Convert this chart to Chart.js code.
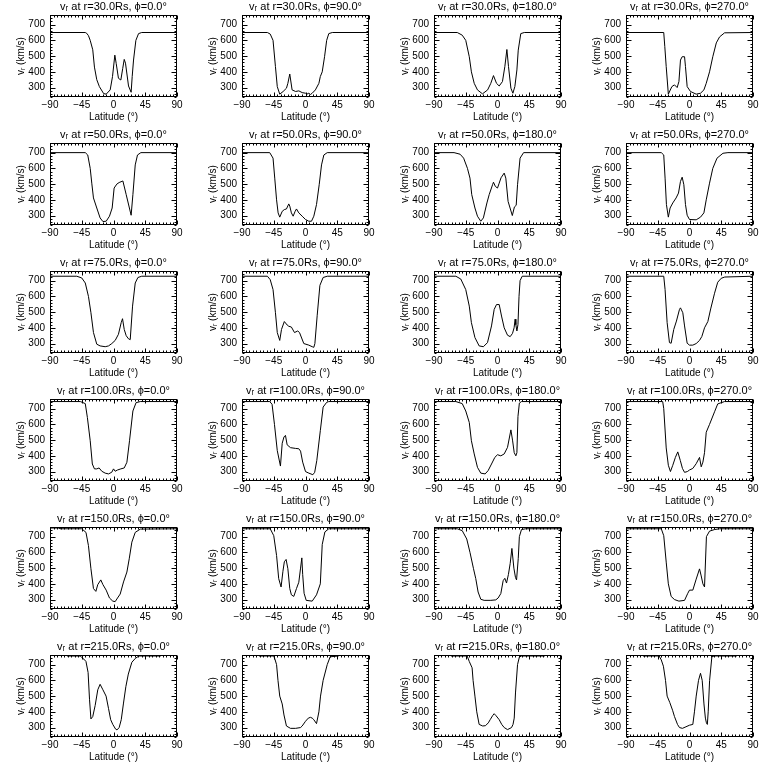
<!DOCTYPE html>
<html>
<head>
<meta charset="utf-8">
<script src="https://cdn.jsdelivr.net/npm/chart.js@4/dist/chart.umd.min.js"></script>
<style>
html,body{margin:0;padding:0;background:#fff;}
#grid{position:relative;width:768px;height:768px;background:#fff;}
#grid canvas{position:absolute;}
</style>
</head>
<body>
<div id="grid"></div>
<script>
// ---- categories & ticks ----
const radii = [30, 50, 75, 100, 150, 215];
const phis = [0, 90, 180, 270];
const xTicks = [-90, -45, 0, 45, 90];
const yTicks = [300, 400, 500, 600, 700];

// ---- series (latitude in deg, v_r in km/s) ----
const lat_r30_p0 = [-90,-40,-38,-35.5,-33,-29.4,-27,-23.7,-20,-14,-10.4,-4.7,-1.4,1.9,3.8,7,10.4,13,15.2,17,21.3,25,26.5,28.4,31.7,35.5,40,90];
const v_r30_p0   = [650,650,645,630,600,540,430,350,306,262,258,285,370,506,454,359,348,420,479,455,310,270,370,475,600,643,650,650];
const lat_r30_p90 = [-90,-54,-50,-46,-42.6,-40,-36.5,-31.7,-27,-25,-22.3,-19,-14,-9.5,-4.7,0,2,4.7,7,9.5,14,19,21,23.7,27,30,33,38,90];
const v_r30_p90   = [650,650,640,600,433,306,258,275,296,327,386,285,275,279,268,264,258,264,256,264,285,327,370,400,496,600,643,650,650];
const lat_r30_p180 = [-90,-57,-50,-45,-40,-37,-33,-28.4,-21.3,-14,-9.5,-5.7,-1.4,2.4,7,10.4,13.3,15.6,19,21.8,24.6,27.5,29.4,33,38,90];
const v_r30_p180   = [650,650,633,600,496,400,327,285,260,285,327,376,327,310,338,433,542,433,296,264,306,412,538,643,650,650];
const lat_r30_p270 = [-90,-36.5,-35,-33,-30,-25,-21.3,-17.5,-15,-12.8,-10.4,-7,-5.7,-3.3,1.4,9.5,15.6,20.4,23.7,28.4,33,38,42.6,49.7,90];
const v_r30_p270   = [650,650,560,433,258,306,317,300,338,475,496,496,433,306,275,258,264,285,327,400,496,584,622,648,650];

const lat_r50_p0 = [-90,-40,-36.5,-33,-30.8,-28.4,-23.7,-19,-15,-10.4,-5.7,-1.9,0.9,4.7,8,13.3,18,25,27.5,30.8,34,38.8,90];
const v_r50_p0   = [700,700,685,600,506,412,348,285,262,264,296,348,475,500,510,520,433,302,433,622,685,700,700];
const lat_r50_p90 = [-90,-50.7,-46,-43.6,-41,-38.8,-36.5,-33,-30,-27,-23.7,-22.3,-20,-17.5,-14.7,-12.8,-9.5,-4.7,0,4.7,8.5,11.8,15.6,19.4,22.7,26,30.8,90];
const v_r50_p90   = [700,700,665,538,400,317,290,327,338,342,374,360,317,296,327,342,317,296,275,264,264,296,370,496,622,685,700,700];
const lat_r50_p180 = [-90,-61.6,-53,-48,-42.6,-39,-36.5,-32,-28.4,-23.7,-20,-15,-11.8,-7,-5.7,-3,0,2.4,5,9.5,11.8,15,21,24,26.5,28.4,32,37,90];
const v_r50_p180   = [700,700,690,665,600,538,433,348,296,264,285,380,433,496,512,485,475,506,540,570,538,390,300,355,365,496,665,700,700];
const lat_r50_p270 = [-90,-40,-36.5,-34.6,-32.7,-30,-27.5,-23.7,-19,-15.6,-12.8,-10.4,-8,-5.7,-3.3,0,9.5,15.6,20.4,23.7,28.4,33,39,47.4,54.5,90];
const v_r50_p270   = [700,700,685,538,370,290,348,380,412,443,517,544,496,370,302,275,273,290,317,400,506,600,665,696,700,700];

const lat_r75_p0 = [-90,-52,-45,-40,-35.5,-32,-28.4,-23.7,-19,-11.8,-7,-2.4,2.4,7,10.9,12.8,15.2,18,21.3,23.7,27,30.8,34.6,40,90];
const v_r75_p0   = [728,728,717,685,600,496,370,296,285,280,285,300,320,359,433,458,390,350,330,325,538,685,720,728,728];
const lat_r75_p90 = [-90,-54,-50,-46,-42.6,-40,-36.5,-34,-30,-26,-23.7,-20,-15.6,-11,-8.5,-2.4,4.7,9.5,11.8,13.3,16.6,20.4,25,30.8,90];
const v_r75_p90   = [728,728,706,643,496,370,320,390,440,418,410,405,370,380,370,300,290,280,276,300,480,670,720,728,728];
const lat_r75_p180 = [-90,-59,-52,-45,-40,-37,-32,-26,-20,-14.2,-8.5,-4.7,-1.4,2.4,5.7,9.5,14.2,18,21.3,23.5,25,26,27.5,29,30.5,32,35,90];
const v_r75_p180   = [728,728,710,643,538,433,338,285,280,306,412,517,548,548,475,400,353,344,365,400,455,420,380,420,600,700,728,728];
const lat_r75_p270 = [-90,-36.5,-34.6,-31.7,-28.4,-26,-22.3,-18.5,-14.2,-12.8,-9.5,-7,-3.3,0,4.7,9.5,14.2,17.5,21.3,26,30,35.5,40,45,50,90];
const v_r75_p270   = [728,728,643,433,306,302,390,443,517,527,496,412,302,290,290,300,320,345,400,440,520,620,690,715,723,728];

const lat_r100_p0 = [-90,-47,-40,-37,-33,-30,-27,-23.7,-20.4,-16.6,-11.8,-7,-2.4,0,2.4,5.7,10.4,15.2,19,22.7,27.5,32,38,90];
const v_r100_p0   = [745,745,732,643,496,348,317,317,323,302,290,285,296,317,302,310,317,323,359,496,685,738,745,745];
const lat_r100_p90 = [-90,-50.7,-47.4,-44,-40,-35.5,-33,-30.5,-28.4,-26,-21.3,-14,-9.5,-7,-4,0,4.7,10.4,13,16,21,25,30,33,90];
const v_r100_p90   = [745,745,728,600,433,335,480,520,530,470,452,447,445,430,360,300,290,280,295,370,560,710,740,745,745];
const lat_r100_p180 = [-90,-59,-50,-45,-40,-37,-33,-28.4,-23.7,-17.5,-13.3,-8.5,-3.8,0,4.7,9.5,14.2,19,21.3,23.7,26,27.5,29,31,34,90];
const v_r100_p180   = [745,745,732,685,612,496,412,327,290,285,306,348,390,407,400,412,454,565,500,420,400,420,650,735,745,745];
const lat_r100_p270 = [-90,-38,-36.5,-33,-30,-27,-23.7,-20,-16.6,-13,-10,-7,-3,0,4.7,9.5,14.2,16.6,19,21.3,23.7,28.4,35.5,40,49.7,90];
const v_r100_p270   = [745,745,700,450,340,300,340,390,425,370,320,295,300,310,320,350,390,330,360,420,550,600,680,730,745,745];

const lat_r150_p0 = [-90,-77,-76,-45,-39,-35.5,-32,-28.4,-25,-22.3,-18,-15,-10.4,-5.7,-1,2.4,5.7,9.5,14.2,19,22.3,26,30.8,38,90];
const v_r150_p0   = [755,755,750,750,727,643,496,370,352,395,425,395,360,310,290,287,310,335,412,475,559,665,727,748,750];
const lat_r150_p90 = [-90,-50,-45,-41,-38,-34.6,-32,-30,-27.5,-25,-22.3,-20,-16.6,-12.8,-9.5,-7,-5.2,-4,-2,1,9.5,15.6,21,23.7,27.5,33,90];
const v_r150_p90   = [750,750,706,580,433,380,480,540,555,496,370,330,320,370,410,500,565,460,340,295,290,330,400,650,730,750,750];
const lat_r150_p180 = [-90,-57,-50,-43.6,-39,-34,-30.8,-27.5,-23.7,-19,-9.5,-2.4,0.9,4.7,8,10.4,12.8,15.5,18,20.4,23.2,25.5,27,29.4,31,34,40,90];
const v_r150_p180   = [750,750,738,685,600,496,433,348,302,295,295,298,310,338,420,435,405,460,530,625,500,440,425,560,700,745,750,750];
const lat_r150_p270 = [-90,-40,-36.5,-33,-30,-26,-21.3,-15,-7,-2.4,0,4.7,9.5,14.2,16.6,19,21.3,24,28.4,35.5,42.6,90];
const v_r150_p270   = [750,750,706,538,400,320,300,290,295,340,360,360,430,495,450,400,380,700,735,745,750,750];

const lat_r215_p0 = [-90,-67,-66,-47,-45,-42,-39,-36,-34,-32,-29.4,-26,-22.3,-19,-15,-10.5,-7,-4,-1,3,5,8,11,14,17.5,21,26,31,36,66,67,90];
const v_r215_p0   = [770,770,755,755,745,735,720,650,480,355,370,440,540,575,540,500,420,350,320,290,285,300,350,450,560,640,715,740,755,755,770,770];
const lat_r215_p90 = [-90,-67,-66,-45,-43,-41,-39,-36.5,-33,-30.5,-27,-21.3,-14,-7,-4.7,0,4,7,9.5,11.8,15.6,19,21.3,25,30.8,35,47,48,90];
const v_r215_p90   = [770,770,755,755,730,700,600,500,450,380,310,295,295,300,310,340,360,365,360,350,325,400,500,600,700,750,755,770,770];
const lat_r215_p180 = [-90,-67,-66,-43,-40,-36,-34.6,-32,-29.4,-26,-21,-17,-13,-10.4,-7,-4.7,-2,2.4,6,9.5,14.2,19.9,22,23.7,25.5,28.4,31,34,66,67,90];
const v_r215_p180   = [770,770,755,755,720,680,600,500,400,320,310,312,330,350,375,388,375,350,320,300,287,300,320,360,520,700,748,755,755,770,770];
const lat_r215_p270 = [-90,-67,-66,-43,-40,-37,-34,-31.7,-28,-24,-21.3,-17,-14.2,-10,-5,0,4.7,7,9.5,12.8,15.6,18,20.5,22.5,24,25.3,26.5,28.5,31.7,35,66,67,90];
const v_r215_p270   = [770,770,755,755,730,690,600,500,460,410,370,320,300,295,305,315,320,400,500,600,645,600,450,360,330,320,400,600,750,755,755,770,770];

const series = {
  '30_0':[lat_r30_p0,v_r30_p0], '30_90':[lat_r30_p90,v_r30_p90], '30_180':[lat_r30_p180,v_r30_p180], '30_270':[lat_r30_p270,v_r30_p270],
  '50_0':[lat_r50_p0,v_r50_p0], '50_90':[lat_r50_p90,v_r50_p90], '50_180':[lat_r50_p180,v_r50_p180], '50_270':[lat_r50_p270,v_r50_p270],
  '75_0':[lat_r75_p0,v_r75_p0], '75_90':[lat_r75_p90,v_r75_p90], '75_180':[lat_r75_p180,v_r75_p180], '75_270':[lat_r75_p270,v_r75_p270],
  '100_0':[lat_r100_p0,v_r100_p0], '100_90':[lat_r100_p90,v_r100_p90], '100_180':[lat_r100_p180,v_r100_p180], '100_270':[lat_r100_p270,v_r100_p270],
  '150_0':[lat_r150_p0,v_r150_p0], '150_90':[lat_r150_p90,v_r150_p90], '150_180':[lat_r150_p180,v_r150_p180], '150_270':[lat_r150_p270,v_r150_p270],
  '215_0':[lat_r215_p0,v_r215_p0], '215_90':[lat_r215_p90,v_r215_p90], '215_180':[lat_r215_p180,v_r215_p180], '215_270':[lat_r215_p270,v_r215_p270]
};

// ---- styling / layout ----
const X_MIN = -90, X_MAX = 90, Y_MIN = 240, Y_MAX = 760;
const X_MINOR = 5, Y_MINOR = 20;
const PANEL_W = 192, PANEL_H = 128;
const FONT = "'Liberation Sans Narrow', 'Liberation Sans', sans-serif";

const framePlugin = {
  id: 'idlFrame',
  afterDraw(chart) {
    const ctx = chart.ctx;
    const ca = chart.chartArea;
    const xs = chart.scales.x, ys = chart.scales.y;
    const L = Math.round(ca.left) + 0.5, R = Math.round(ca.right) - 0.5;
    const T = Math.round(ca.top) + 0.5, B = Math.round(ca.bottom) - 0.5;
    ctx.save();
    ctx.strokeStyle = '#000';
    ctx.lineWidth = 1;
    ctx.strokeRect(L, T, R - L, B - T);
    ctx.beginPath();
    for (let v = X_MIN; v <= X_MAX; v += X_MINOR) {
      const px = Math.round(xs.getPixelForValue(v)) + 0.5;
      const len = xTicks.includes(v) ? 4 : 2;
      ctx.moveTo(px, B); ctx.lineTo(px, B - len);
      ctx.moveTo(px, T); ctx.lineTo(px, T + len);
    }
    for (let v = Y_MIN; v <= Y_MAX; v += Y_MINOR) {
      const py = Math.round(ys.getPixelForValue(v)) + 0.5;
      const len = yTicks.includes(v) ? 5 : 2;
      ctx.moveTo(L, py); ctx.lineTo(L + len, py);
      ctx.moveTo(R, py); ctx.lineTo(R - len, py);
    }
    ctx.stroke();
    ctx.restore();
  }
};

const grid = document.getElementById('grid');
radii.forEach((r, ri) => {
  phis.forEach((phi, pi) => {
    const [lat, v] = series[r + '_' + phi];
    const cv = document.createElement('canvas');
    cv.width = PANEL_W; cv.height = PANEL_H;
    cv.style.left = (pi * PANEL_W) + 'px';
    cv.style.top = (ri * PANEL_H) + 'px';
    cv.style.width = PANEL_W + 'px'; cv.style.height = PANEL_H + 'px';
    grid.appendChild(cv);
    const titleText = 'v\u1D63 at r=' + r.toFixed(1) + 'Rs, \u03D5=' + phi.toFixed(1) + '\u00B0';
    new Chart(cv, {
      type: 'line',
      data: {
        datasets: [{
          data: lat.map((x, i) => ({x: x, y: v[i]})),
          borderColor: '#000', borderWidth: 1, pointRadius: 0,
          tension: 0, fill: false, clip: 0
        }]
      },
      options: {
        responsive: false, animation: false, devicePixelRatio: 1,
        parsing: false,
        layout: {padding: {left: 0, right: 15, top: 0, bottom: 0}},
        plugins: {
          legend: {display: false},
          tooltip: {enabled: false},
          title: {
            display: true, text: titleText, fullSize: false, color: '#000',
            font: {family: FONT, size: 11, weight: 'normal', lineHeight: 1.2},
            padding: {top: 0, bottom: 2}
          }
        },
        scales: {
          x: {
            type: 'linear', min: X_MIN, max: X_MAX,
            afterBuildTicks: s => { s.ticks = xTicks.map(t => ({value: t})); },
            ticks: {color: '#000', font: {family: FONT, size: 10}, padding: 2, maxRotation: 0, autoSkip: false,
                    callback: val => String(val).replace('-', '\u2212')},
            grid: {display: false, drawTicks: false, tickLength: 0}, border: {display: false},
            title: {display: true, text: 'Latitude (\u00B0)', color: '#000',
                    font: {family: FONT, size: 10, lineHeight: 1.2}, padding: {top: 0, bottom: 5}},
            afterFit: s => { s.height = 31; }
          },
          y: {
            type: 'linear', min: Y_MIN, max: Y_MAX,
            afterBuildTicks: s => { s.ticks = yTicks.map(t => ({value: t})); },
            ticks: {color: '#000', font: {family: FONT, size: 10}, padding: 5, autoSkip: false},
            grid: {display: false, drawTicks: false, tickLength: 0}, border: {display: false},
            title: {display: true, text: 'v\u1D63 (km/s)', color: '#000',
                    font: {family: FONT, size: 10, lineHeight: 1.2}, padding: {top: 15, bottom: 0}},
            afterFit: s => { s.width = 50; }
          }
        }
      },
      plugins: [framePlugin]
    });
  });
});
</script>
</body>
</html>
